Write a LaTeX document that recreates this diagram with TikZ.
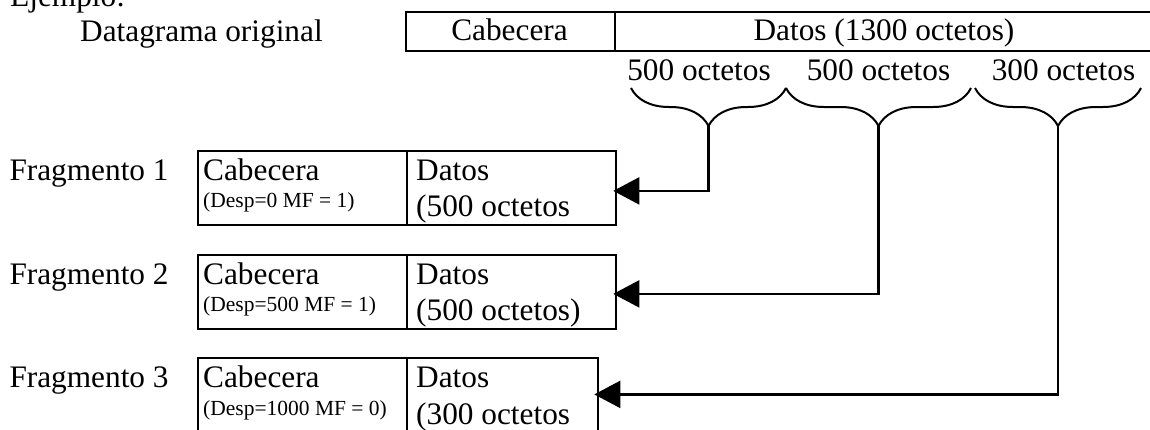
\documentclass[tikz,border=0pt]{standalone}
\usepackage{fontspec}
\setmainfont{Liberation Serif}
\usetikzlibrary{arrows.meta,decorations.pathreplacing}
\begin{document}
\begin{tikzpicture}[x=1pt,y=-1pt,
  big/.style={font=\fontsize{31.3}{37}\selectfont, inner sep=0pt},
  small/.style={font=\fontsize{21.5}{26}\selectfont, inner sep=0pt},
  cell/.style={draw, line width=2.3pt, inner sep=0pt, anchor=north west, minimum height=#1},
  cell/.default=74.5pt,
  bracestyle/.style={decorate, decoration={brace, mirror, amplitude=38pt}, line width=2pt},
  conn/.style={line width=2.2pt, -{Triangle[length=26pt,width=27pt]}}
]
\useasboundingbox (0,0) rectangle (1150,429);

% title
\node[big, anchor=base west] (ej) at (10,6.5) {Ejemplo:};
\node[big, anchor=base west] (dg) at (80,41.7) {Datagrama original};

% original datagram
\node[cell=39pt, minimum width=209pt] (oh) at (405,11) {};
\node[cell=39pt, minimum width=540pt] (od) at (614,11) {};
\node[big, anchor=base] (ohT) at (509.5,40.7) {Cabecera};
\node[big, anchor=base] (odT) at (884,40.7) {Datos (1300 octetos)};

% part labels
\node[big, anchor=base] (l1) at (699,80) {500 octetos};
\node[big, anchor=base] (l2) at (878.5,80) {500 octetos};
\node[big, anchor=base] (l3) at (1063.5,80) {300 octetos};

% braces
\draw[bracestyle] (631,88) -- (786,88);
\draw[bracestyle] (786,88) -- (971,88);
\draw[bracestyle] (975,88) -- (1141,88);
\coordinate (b1) at (708.5,126);
\coordinate (b2) at (878.5,126);
\coordinate (b3) at (1058,126);

% fragment labels
\node[big, anchor=base west] (f1) at (9.3,180) {Fragmento 1};
\node[big, anchor=base west] (f2) at (9.3,284) {Fragmento 2};
\node[big, anchor=base west] (f3) at (9.3,387.5) {Fragmento 3};

% fragment 1
\node[cell, minimum width=209pt] (h1) at (197,149.5) {};
\node[cell, minimum width=209pt] (d1) at (406,149.5) {};
\node[big, anchor=base west] (h1a) at ([shift={(6,30.5)}]h1.north west) {Cabecera};
\node[small, anchor=base west] (h1b) at ([shift={(6,58)}]h1.north west) {(Desp=0 MF = 1)};
\node[big, anchor=base west] (d1a) at ([shift={(10,30.5)}]d1.north west) {Datos};
\node[big, anchor=base west] (d1b) at ([shift={(10,67)}]d1.north west) {(500 octetos};

% fragment 2
\node[cell, minimum width=209pt] (h2) at (197,253.5) {};
\node[cell, minimum width=209pt] (d2) at (406,253.5) {};
\node[big, anchor=base west] (h2a) at ([shift={(6,30.5)}]h2.north west) {Cabecera};
\node[small, anchor=base west] (h2b) at ([shift={(6,58)}]h2.north west) {(Desp=500 MF = 1)};
\node[big, anchor=base west] (d2a) at ([shift={(10,30.5)}]d2.north west) {Datos};
\node[big, anchor=base west] (d2b) at ([shift={(10,67)}]d2.north west) {(500 octetos)};

% fragment 3
\node[cell, minimum width=209pt] (h3) at (197,357) {};
\node[cell, minimum width=191pt] (d3) at (406,357) {};
\node[big, anchor=base west] (h3a) at ([shift={(6,30.5)}]h3.north west) {Cabecera};
\node[small, anchor=base west] (h3b) at ([shift={(6,58)}]h3.north west) {(Desp=1000 MF = 0)};
\node[big, anchor=base west] (d3a) at ([shift={(10,30.5)}]d3.north west) {Datos};
\node[big, anchor=base west] (d3b) at ([shift={(10,67)}]d3.north west) {(300 octetos};

% connectors
\draw[conn] (b1) |- ([shift={(-4,3)}]d1.east);
\draw[conn] (b2) |- ([shift={(-4,2)}]d2.east);
\draw[conn] (b3) |- ([shift={(-5,-1)}]d3.east);
\end{tikzpicture}
\end{document}
